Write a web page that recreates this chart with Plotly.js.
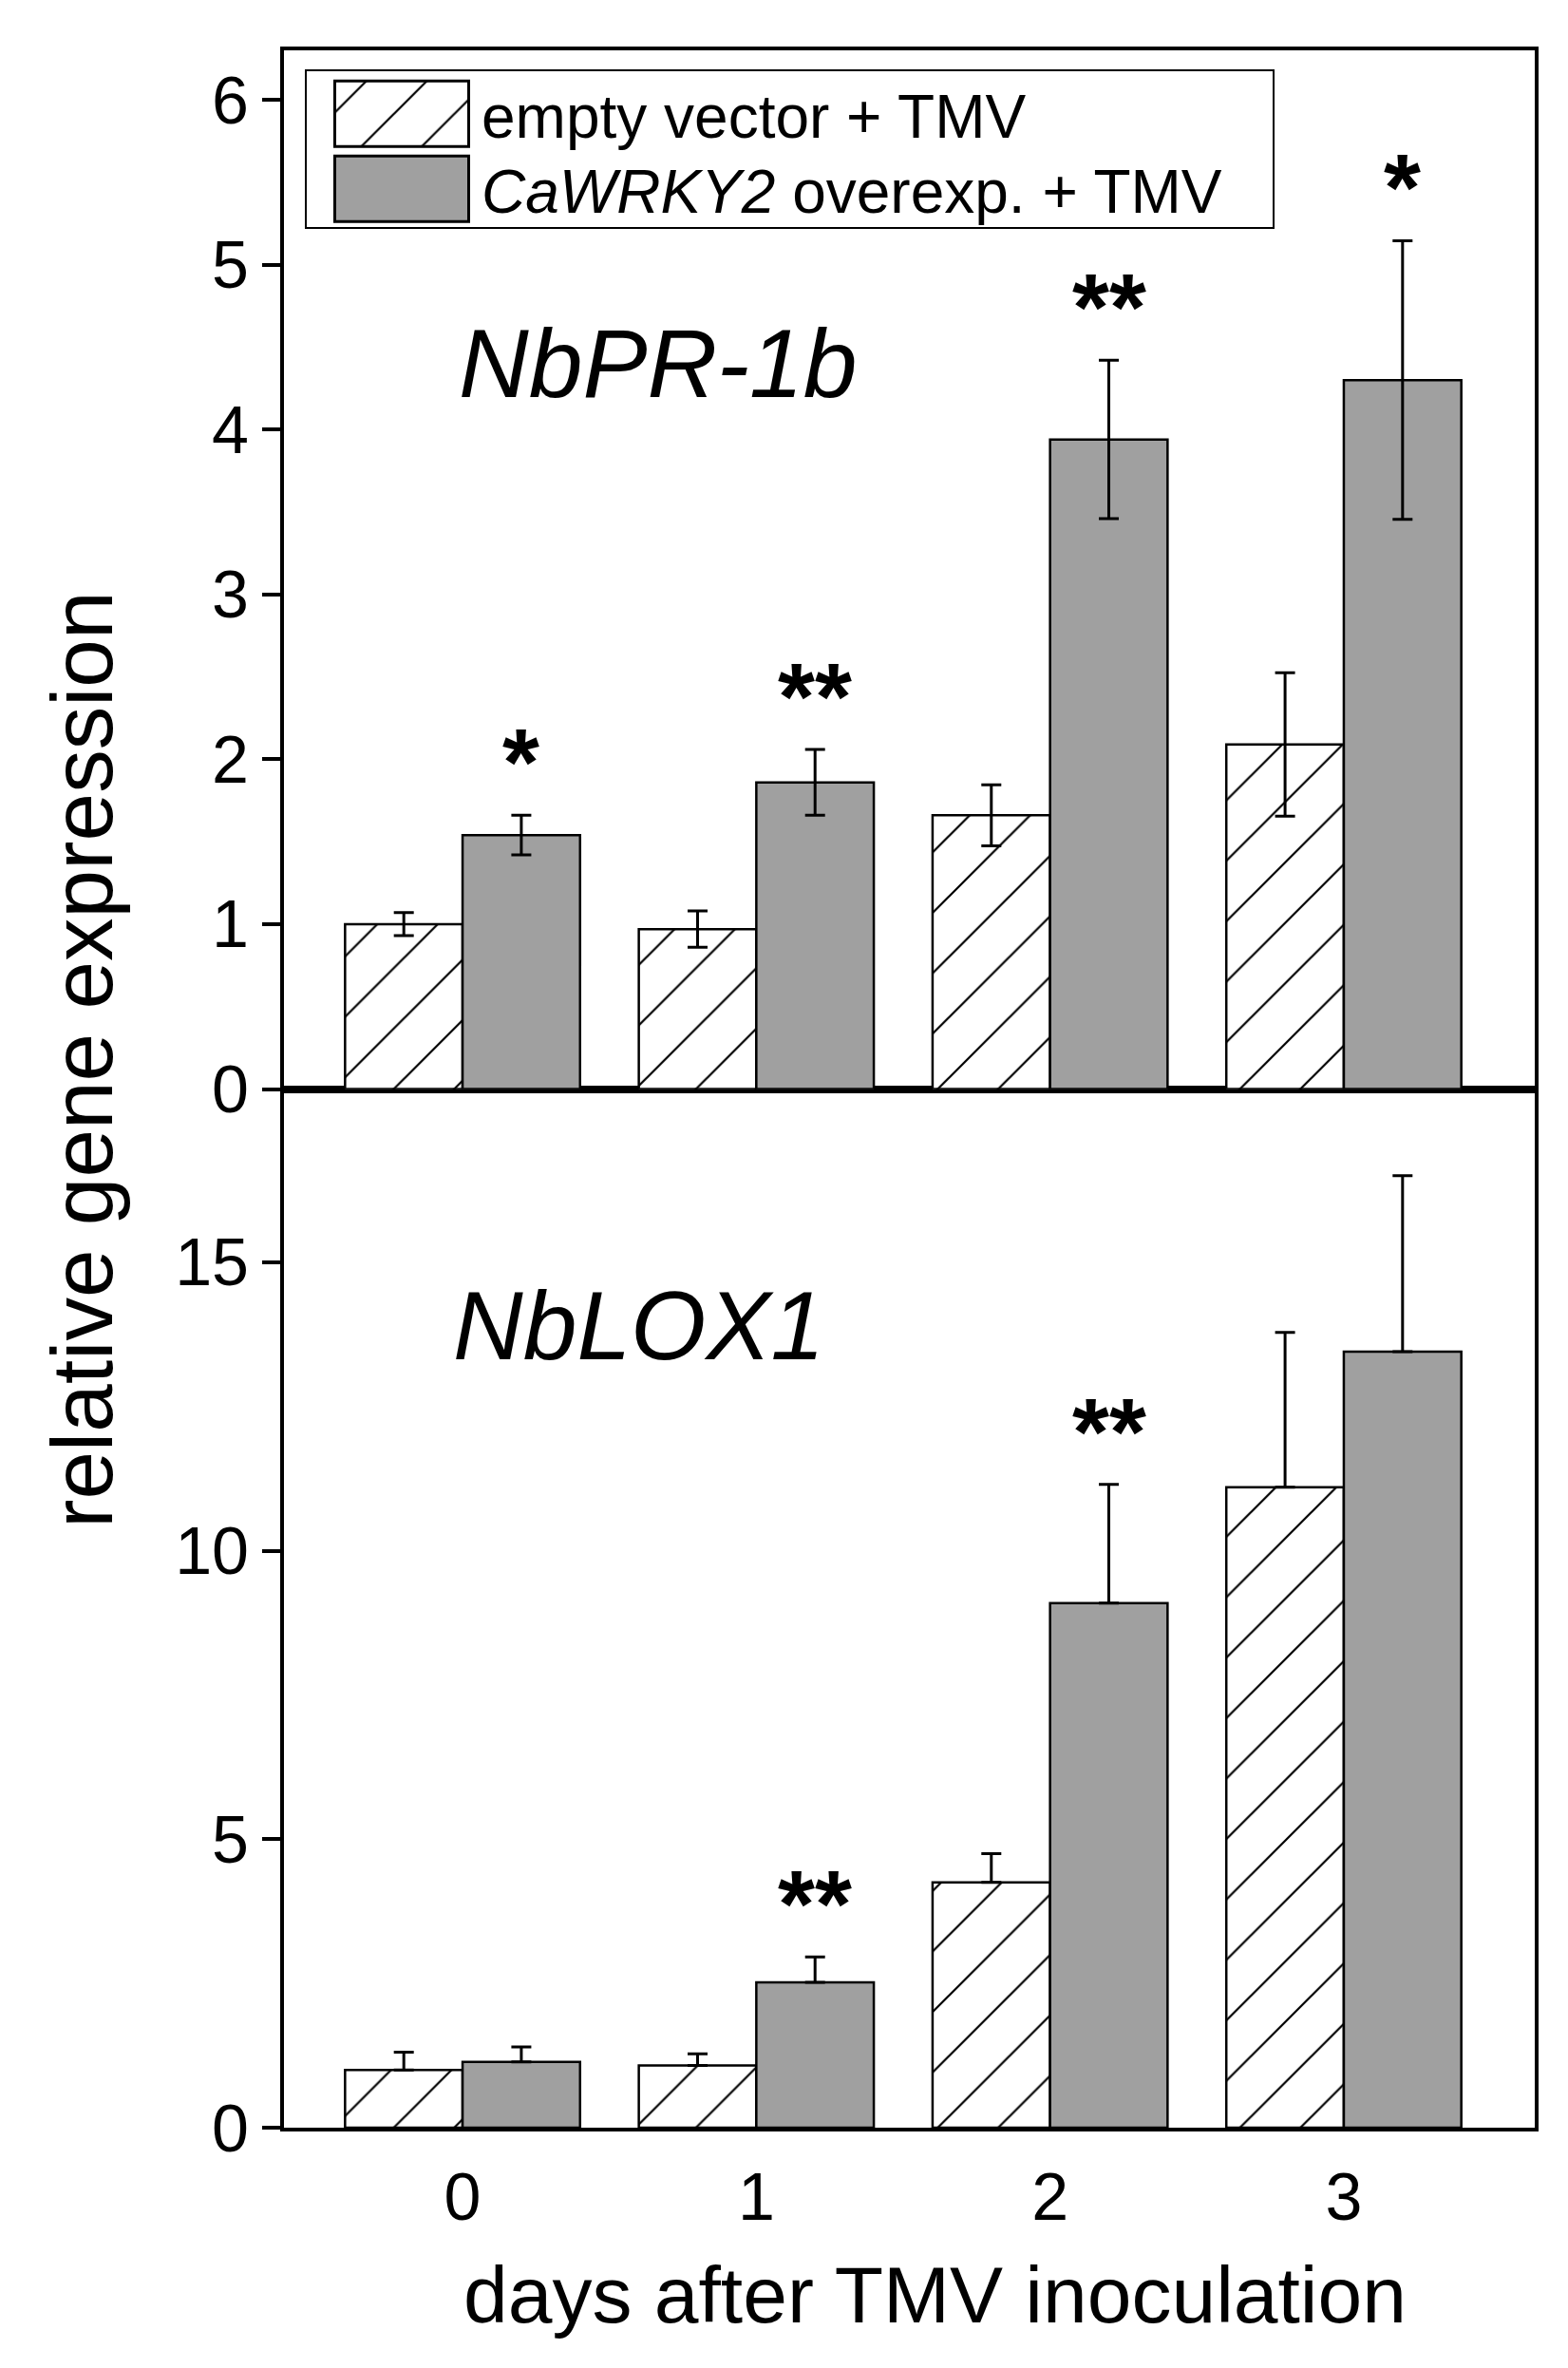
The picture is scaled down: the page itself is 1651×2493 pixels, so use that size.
<!DOCTYPE html>
<html>
<head>
<meta charset="utf-8">
<script src="https://cdn.plot.ly/plotly-3.0.1.min.js"></script>
<style>
  body { margin: 0; background: #fff; }
  #graph { width: 1651px; height: 2493px; }
</style>
</head>
<body>
<div id="graph"></div>
<script>
// days after inoculation
const days = [0, 1, 2, 3];

// NbPR-1b (top panel)
const prEmpty = [1.00, 0.97, 1.66, 2.09];
const prEmptyErr = [0.07, 0.11, 0.185, 0.435];
const prWrky = [1.54, 1.86, 3.94, 4.30];
const prWrkyErr = [0.12, 0.20, 0.48, 0.845];
const prSig = ['*', '**', '**', '*'];

// NbLOX1 (bottom panel), error bars only drawn upward
const loxEmpty = [1.00, 1.08, 4.25, 11.10];
const loxEmptyErr = [0.31, 0.20, 0.50, 2.68];
const loxWrky = [1.14, 2.52, 9.09, 13.45];
const loxWrkyErr = [0.26, 0.44, 2.06, 3.05];
const loxSig = ['', '**', '**', ''];

const FONT = 'Liberation Sans, Arial, sans-serif';
const GREY = '#a0a0a0';

const hatch = {
  color: 'white',
  line: { color: 'black', width: 2.5 },
  pattern: { shape: '/', fgcolor: 'black', bgcolor: 'white', size: 45, solidity: 0.05 }
};
const solid = { color: GREY, line: { color: 'black', width: 2.5 } };

function errs(arr, up) {
  var e = { type: 'data', array: arr, color: 'black', thickness: 3, width: 10.5, visible: true };
  if (up) { e.symmetric = false; e.arrayminus = arr.map(function () { return 0; }); }
  return e;
}

var data = [
  { type: 'bar', x: days, y: prEmpty, xaxis: 'x2', yaxis: 'y', name: 'empty vector + TMV',
    legendgroup: 'ev', marker: hatch, error_y: errs(prEmptyErr, false) },
  { type: 'bar', x: days, y: prWrky, xaxis: 'x2', yaxis: 'y', name: '<i>CaWRKY2</i> overexp. + TMV',
    legendgroup: 'ox', marker: solid, error_y: errs(prWrkyErr, false) },
  { type: 'bar', x: days, y: loxEmpty, xaxis: 'x', yaxis: 'y2', name: 'empty vector + TMV',
    legendgroup: 'ev', showlegend: false, marker: hatch, error_y: errs(loxEmptyErr, true) },
  { type: 'bar', x: days, y: loxWrky, xaxis: 'x', yaxis: 'y2', name: 'CaWRKY2',
    legendgroup: 'ox', showlegend: false, marker: solid, error_y: errs(loxWrkyErr, true) }
];

var ann = [];
// significance marks above the CaWRKY2 bars
function stars(sig, vals, err, xr, yr) {
  sig.forEach(function (s, i) {
    if (!s) return;
    ann.push({ text: s, x: days[i] + 0.2, y: vals[i] + err[i], xref: xr, yref: yr,
      xanchor: 'center', yanchor: 'middle', yshift: 56, showarrow: false,
      font: { family: FONT, size: 100, color: 'black', weight: 'bold' } });
  });
}
stars(prSig, prWrky, prWrkyErr, 'x2', 'y');
stars(loxSig, loxWrky, loxWrkyErr, 'x', 'y2');

ann.push({ text: 'NbPR-1b', xref: 'paper', yref: 'y', x: 0.138, y: 4.4, xanchor: 'left', yanchor: 'middle',
  showarrow: false, font: { family: FONT, size: 102, style: 'italic', color: 'black' } });
ann.push({ text: 'NbLOX1', xref: 'paper', yref: 'y2', x: 0.134, y: 13.9, xanchor: 'left', yanchor: 'middle',
  showarrow: false, font: { family: FONT, size: 102, style: 'italic', color: 'black' } });
ann.push({ text: 'relative gene expression', xref: 'paper', yref: 'paper', x: -0.161, y: 0.514,
  xanchor: 'center', yanchor: 'middle', textangle: -90, showarrow: false,
  font: { family: FONT, size: 91, color: 'black' } });
// x axis title, a little right of the plot centre as in the original
ann.push({ text: 'days after TMV inoculation', xref: 'paper', yref: 'paper', x: 0.5205, y: -0.0805,
  xanchor: 'center', yanchor: 'middle', showarrow: false,
  font: { family: FONT, size: 84, color: 'black' } });

var axLine = { showline: true, linecolor: 'black', linewidth: 4, mirror: true, showgrid: false, zeroline: false };

var layout = {
  width: 1651, height: 2493,
  margin: { l: 299, r: 35, t: 53, b: 253 },
  paper_bgcolor: 'white', plot_bgcolor: 'white',
  font: { family: FONT, color: 'black' },
  barmode: 'group', bargap: 0.2, bargroupgap: 0,
  xaxis: Object.assign({}, axLine, {
    domain: [0, 1], anchor: 'y2', range: [-0.608, 3.65],
    tickvals: days, ticktext: days.map(String),
    ticks: 'outside', ticklen: 9, tickcolor: 'rgba(0,0,0,0)',
    tickfont: { family: FONT, size: 70 }
  }),
  xaxis2: Object.assign({}, axLine, {
    domain: [0, 1], anchor: 'y', matches: 'x', range: [-0.608, 3.65],
    showticklabels: false, ticks: ''
  }),
  yaxis: Object.assign({}, axLine, {
    domain: [0.5, 1], anchor: 'x2', range: [0, 6.3],
    tickvals: [0, 1, 2, 3, 4, 5, 6],
    ticks: 'outside', ticklen: 19, tickwidth: 4, tickcolor: 'black',
    tickfont: { family: FONT, size: 70 }
  }),
  yaxis2: Object.assign({}, axLine, {
    domain: [0, 0.5], anchor: 'x', range: [0, 18],
    tickvals: [0, 5, 10, 15],
    ticks: 'outside', ticklen: 19, tickwidth: 4, tickcolor: 'black',
    tickfont: { family: FONT, size: 70 }
  }),
  showlegend: true,
  legend: {
    x: 0.0167, y: 0.991, xanchor: 'left', yanchor: 'top',
    bgcolor: 'white', bordercolor: 'black', borderwidth: 2,
    font: { family: FONT, size: 64, color: 'black' },
    itemwidth: 174, tracegroupgap: 0
  },
  annotations: ann
};

Plotly.newPlot('graph', data, layout, { staticPlot: true }).then(function () {
  // big legend boxes as in the original figure, hatch taken from the bars
  var hatched = null;
  document.querySelectorAll('.barlayer .trace path').forEach(function (p) {
    if (!hatched && p.style.fill.indexOf('url') >= 0) hatched = p.style.fill;
  });
  var items = document.querySelectorAll('.legend .traces');
  var rows = [47, 126];
  items.forEach(function (g, i) {
    var m = /translate\(([-\d.]+)[ ,]+([-\d.]+)\)/.exec(g.getAttribute('transform') || '');
    var tx = m ? m[1] : 2;
    g.setAttribute('transform', 'translate(' + tx + ',' + rows[i] + ')');
    var p = g.querySelector('.legendpoints path');
    if (p) {
      p.setAttribute('d', 'M-62.5,-34.5h141v69h-141Z');
      p.style.strokeWidth = '3px';
      if (i === 0 && hatched) p.style.fill = hatched;
    }
  });
  var bg = document.querySelector('.legend rect.bg');
  if (bg) { bg.setAttribute('width', 1019); bg.setAttribute('height', 166); }
});
</script>
</body>
</html>
